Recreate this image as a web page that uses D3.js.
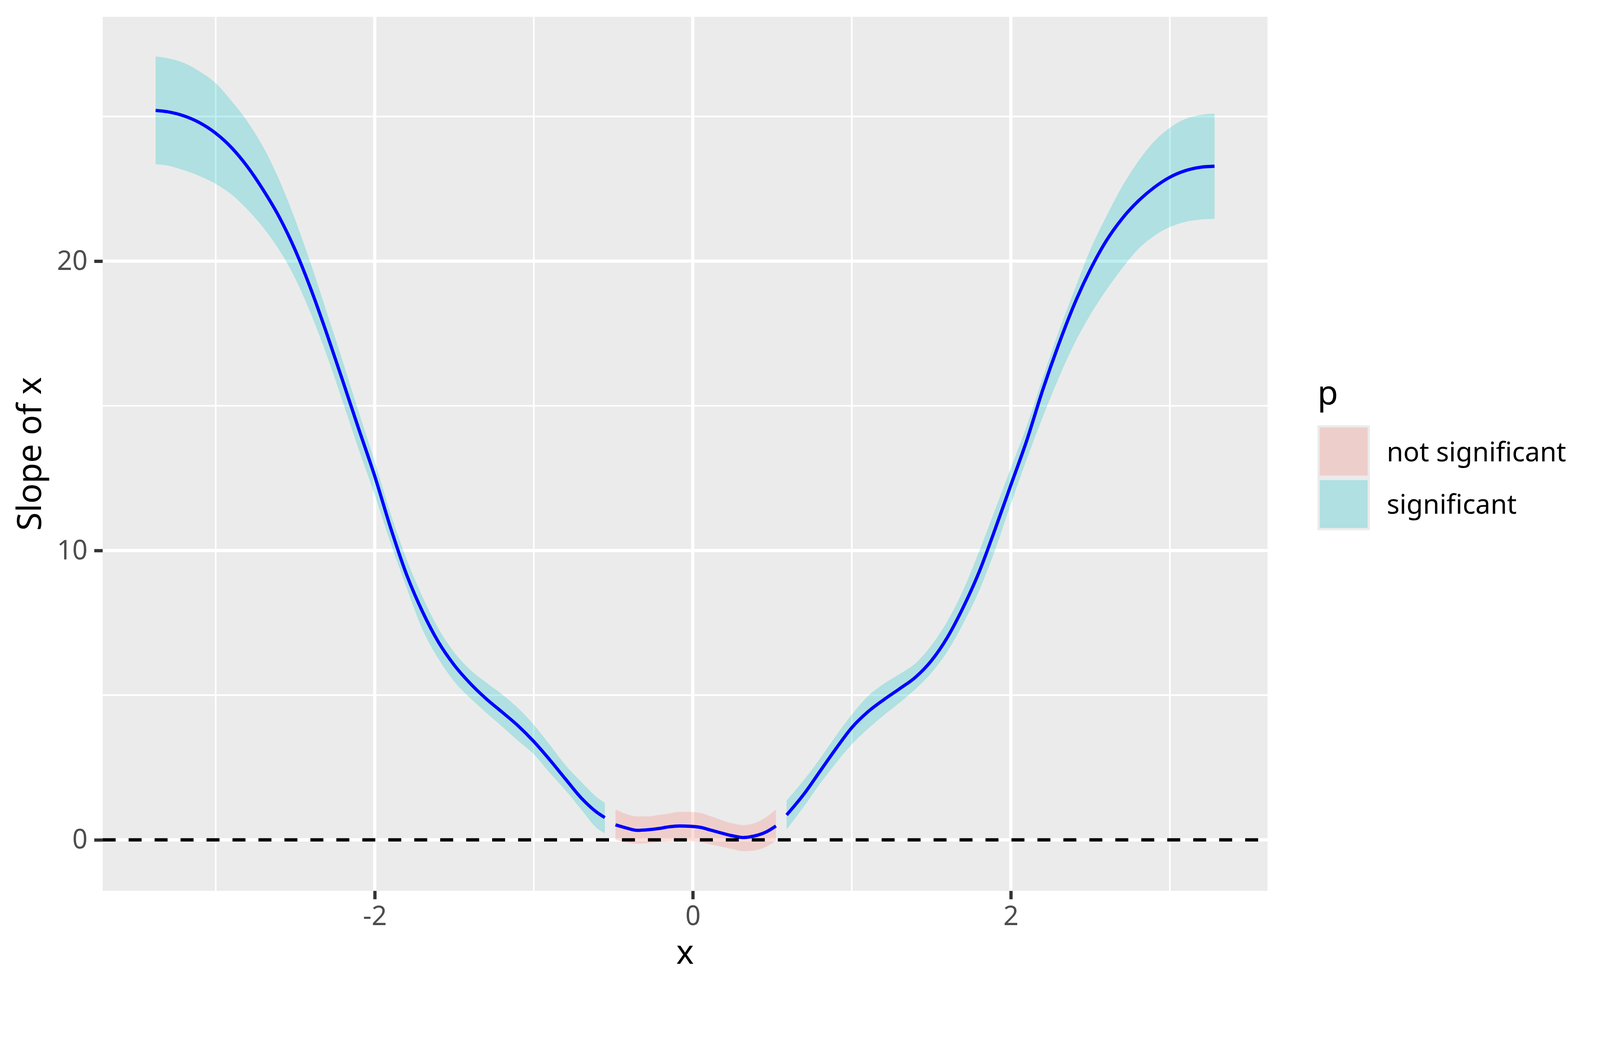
<!DOCTYPE html>
<html>
<head>
<meta charset="utf-8">
<script src="https://cdn.jsdelivr.net/npm/d3@7"></script>
<style>
  html, body { margin: 0; padding: 0; background: #fff; overflow: hidden; }
  svg { display: block; width: 100vw; height: auto; }
  text { font-family: "Noto Sans", sans-serif; }
</style>
</head>
<body>
<div id="canvas"></div>
<script>
// slope estimate of x, split where the CI crosses zero
const xLeft = [-3.378, -3.3, -3.2, -3.1, -3.0, -2.9, -2.8, -2.7, -2.6, -2.5, -2.4, -2.3, -2.2, -2.1, -2.0,
  -1.9, -1.8, -1.7, -1.6, -1.5, -1.4, -1.3, -1.2, -1.1, -1.0, -0.9, -0.8, -0.7, -0.6, -0.553];
const fitLeft = [25.21, 25.16, 25.02, 24.78, 24.42, 23.92, 23.26, 22.45, 21.52, 20.38, 19.01, 17.47, 15.84, 14.19, 12.57,
  10.78, 9.17, 7.89, 6.84, 6.04, 5.41, 4.88, 4.42, 3.95, 3.40, 2.77, 2.10, 1.44, 0.94, 0.77];
const upLeft = [27.07, 27.01, 26.85, 26.55, 26.15, 25.53, 24.82, 23.93, 22.80, 21.43, 19.88, 18.21, 16.52, 14.78, 13.07,
  11.27, 9.70, 8.41, 7.31, 6.48, 5.88, 5.44, 5.03, 4.56, 3.98, 3.29, 2.58, 2.00, 1.46, 1.28];
const lowLeft = [23.35, 23.30, 23.14, 22.94, 22.67, 22.30, 21.78, 21.15, 20.38, 19.40, 18.16, 16.72, 15.12, 13.48, 11.92,
  10.26, 8.72, 7.27, 6.26, 5.47, 4.90, 4.40, 3.92, 3.43, 2.96, 2.32, 1.71, 1.04, 0.39, 0.23];

const xMid = [-0.486, -0.417, -0.35, -0.283, -0.217, -0.15, -0.083, -0.017, 0.05, 0.117, 0.184, 0.25, 0.317, 0.384, 0.46, 0.523];
const fitMid = [0.52, 0.41, 0.33, 0.35, 0.39, 0.45, 0.48, 0.47, 0.43, 0.33, 0.23, 0.14, 0.08, 0.13, 0.27, 0.48];
const upMid = [1.05, 0.89, 0.81, 0.81, 0.86, 0.91, 0.97, 0.97, 0.93, 0.81, 0.68, 0.57, 0.51, 0.57, 0.78, 1.05];
const lowMid = [0.0, -0.09, -0.13, -0.11, -0.08, -0.05, -0.03, -0.04, -0.08, -0.16, -0.24, -0.32, -0.39, -0.37, -0.24, -0.03];

const xRight = [0.590, 0.7, 0.8, 0.9, 1.0, 1.1, 1.2, 1.3, 1.4, 1.5, 1.6, 1.7, 1.8, 1.9, 2.0,
  2.1, 2.2, 2.3, 2.4, 2.5, 2.6, 2.7, 2.8, 2.9, 3.0, 3.1, 3.2, 3.281];
const fitRight = [0.86, 1.59, 2.37, 3.15, 3.88, 4.42, 4.84, 5.22, 5.62, 6.19, 6.99, 8.03, 9.25, 10.72, 12.26,
  13.80, 15.54, 17.11, 18.52, 19.71, 20.70, 21.47, 22.07, 22.54, 22.90, 23.13, 23.25, 23.28];
const upRight = [1.36, 2.08, 2.81, 3.60, 4.33, 4.96, 5.39, 5.73, 6.10, 6.72, 7.55, 8.63, 9.96, 11.40, 12.85,
  14.30, 15.95, 17.55, 19.00, 20.40, 21.54, 22.58, 23.44, 24.13, 24.61, 24.92, 25.06, 25.10];
const lowRight = [0.36, 1.16, 1.94, 2.65, 3.30, 3.83, 4.30, 4.74, 5.21, 5.77, 6.50, 7.47, 8.60, 10.00, 11.60,
  13.15, 14.60, 15.95, 17.15, 18.15, 19.00, 19.75, 20.41, 20.87, 21.18, 21.36, 21.44, 21.46];

const groups = ["not significant", "significant"];
const groupColors = ["#F8766D", "#00BFC4"];
const xTicks = [-2, 0, 2];
const xMinor = [-3, -1, 1, 3];
const yTicks = [0, 10, 20];
const yMinor = [5, 15, 25];

const segments = [
  { p: "significant", x: xLeft, fit: fitLeft, up: upLeft, low: lowLeft },
  { p: "not significant", x: xMid, fit: fitMid, up: upMid, low: lowMid },
  { p: "significant", x: xRight, fit: fitRight, up: upRight, low: lowRight }
].map(s => ({ p: s.p, rows: s.x.map((v, i) => ({ x: v, fit: s.fit[i], up: s.up[i], low: s.low[i] })) }));

const width = 4375;
const height = 2703;
const pt = 8.333; // px per point
const lw = 8.9;   // ggplot linewidth 0.5

const panel = { left: 280.7, top: 46, right: 3465.8, bottom: 2435.7 };

const svg = d3.select("#canvas").append("svg")
  .attr("viewBox", `0 0 ${width} ${height}`)
  .attr("preserveAspectRatio", "xMinYMin meet");

svg.append("rect").attr("width", width).attr("height", height).attr("fill", "#fff");

const allRows = segments.flatMap(s => s.rows);
const xExt = d3.extent(allRows, d => d.x);
const yExt = [d3.min(allRows, d => d.low), d3.max(allRows, d => d.up)];
const pad = (e) => { const r = e[1] - e[0]; return [e[0] - 0.05 * r, e[1] + 0.05 * r]; };

const x = d3.scaleLinear().domain(pad(xExt)).range([panel.left, panel.right]);
const y = d3.scaleLinear().domain(pad(yExt)).range([panel.bottom, panel.top]);
const fill = d3.scaleOrdinal().domain(groups).range(groupColors);

svg.append("rect")
  .attr("x", panel.left).attr("y", panel.top)
  .attr("width", panel.right - panel.left).attr("height", panel.bottom - panel.top)
  .attr("fill", "#EBEBEB");

const grid = svg.append("g").attr("stroke", "#fff").attr("fill", "none");
grid.selectAll(".xmin").data(xMinor).enter().append("line")
  .attr("x1", d => x(d)).attr("x2", d => x(d)).attr("y1", panel.top).attr("y2", panel.bottom)
  .attr("stroke-width", lw / 2);
grid.selectAll(".ymin").data(yMinor).enter().append("line")
  .attr("y1", d => y(d)).attr("y2", d => y(d)).attr("x1", panel.left).attr("x2", panel.right)
  .attr("stroke-width", lw / 2);
grid.selectAll(".xmaj").data(xTicks).enter().append("line")
  .attr("x1", d => x(d)).attr("x2", d => x(d)).attr("y1", panel.top).attr("y2", panel.bottom)
  .attr("stroke-width", lw);
grid.selectAll(".ymaj").data(yTicks).enter().append("line")
  .attr("y1", d => y(d)).attr("y2", d => y(d)).attr("x1", panel.left).attr("x2", panel.right)
  .attr("stroke-width", lw);

const area = d3.area()
  .x(d => x(d.x)).y0(d => y(d.low)).y1(d => y(d.up))
  .curve(d3.curveMonotoneX);
const line = d3.line()
  .x(d => x(d.x)).y(d => y(d.fit))
  .curve(d3.curveMonotoneX);

svg.append("g").selectAll("path").data(segments).enter().append("path")
  .attr("d", d => area(d.rows))
  .attr("fill", d => fill(d.p))
  .attr("fill-opacity", 0.25);

svg.append("g").selectAll("path").data(segments).enter().append("path")
  .attr("d", d => line(d.rows))
  .attr("fill", "none")
  .attr("stroke", "#0000FF")
  .attr("stroke-width", lw);

svg.append("line")
  .attr("x1", panel.left).attr("x2", panel.right)
  .attr("y1", y(0)).attr("y2", y(0))
  .attr("stroke", "#000").attr("stroke-width", lw)
  .attr("stroke-dasharray", "35.5 35.5");

// axes
const xAxis = svg.append("g")
  .attr("transform", `translate(0,${panel.bottom})`)
  .call(d3.axisBottom(x).tickValues(xTicks).tickSize(2.75 * pt).tickPadding(2.2 * pt).tickFormat(d3.format("d")));
const yAxis = svg.append("g")
  .attr("transform", `translate(${panel.left},0)`)
  .call(d3.axisLeft(y).tickValues(yTicks).tickSize(2.75 * pt).tickPadding(2.2 * pt));

[xAxis, yAxis].forEach(a => {
  a.select(".domain").remove();
  a.selectAll(".tick line").attr("stroke", "#333333").attr("stroke-width", lw);
  a.selectAll(".tick text")
    .attr("fill", "#4D4D4D")
    .style("font-family", "'Noto Sans', sans-serif")
    .style("font-size", (8.8 * pt) + "px");
});
xAxis.selectAll(".tick text").text(d => d < 0 ? "-" + Math.abs(d) : d);

svg.append("text")
  .attr("x", (panel.left + panel.right) / 2)
  .attr("y", 2635)
  .attr("text-anchor", "middle")
  .style("font-size", (11 * pt) + "px")
  .text("x");

svg.append("text")
  .attr("transform", `translate(112,${(panel.top + panel.bottom) / 2}) rotate(-90)`)
  .attr("text-anchor", "middle")
  .style("font-size", (11 * pt) + "px")
  .text("Slope of x");

// legend
const legend = svg.append("g").attr("transform", "translate(3602.4,0)");
legend.append("text")
  .attr("x", 0).attr("y", 1105.7)
  .style("font-size", (11 * pt) + "px")
  .text("p");

const keySize = 143.5;
const keys = legend.selectAll(".key").data(groups).enter().append("g")
  .attr("transform", (d, i) => `translate(0,${1162.8 + i * keySize})`);
keys.append("rect")
  .attr("width", keySize).attr("height", keySize)
  .attr("fill", "#EBEBEB");
keys.append("rect")
  .attr("x", 6.2).attr("y", 6.2)
  .attr("width", keySize - 12.4).attr("height", keySize - 12.4)
  .attr("fill", d => fill(d))
  .attr("fill-opacity", 0.25);
keys.append("text")
  .attr("x", keySize + 5.5 * pt)
  .attr("y", keySize / 2 + 27)
  .style("font-size", (8.8 * pt) + "px")
  .text(d => d);
</script>
</body>
</html>
